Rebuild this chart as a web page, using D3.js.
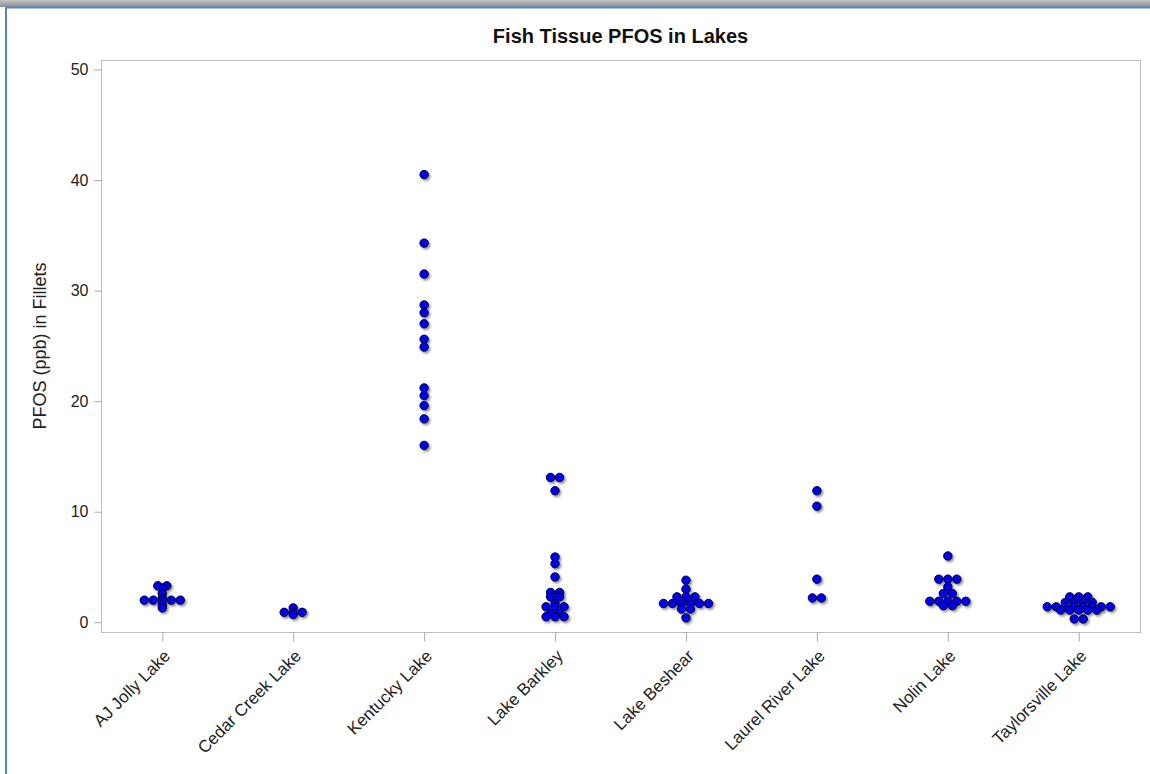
<!DOCTYPE html>
<html>
<head>
<meta charset="utf-8">
<script src="https://cdn.jsdelivr.net/npm/d3@7"></script>
<style>
  html, body { margin: 0; padding: 0; background: #fff; }
  svg { display: block; font-family: "Liberation Sans", Arial, sans-serif; }
  .tick text { fill: #222; }
  .tick line { stroke: #a8a8a8; }
</style>
</head>
<body>
<div id="main"></div>
<script>

var width = 1150,
    height = 774;

var plotLeft = 101, plotRight = 1140,
    plotTop = 60, plotBottom = 632;

var MARKER_R = 4.2,
    MARKER_STEP = 9;

// categories
var lakes = ["AJ Jolly Lake", "Cedar Creek Lake", "Kentucky Lake", "Lake Barkley",
             "Lake Beshear", "Laurel River Lake", "Nolin Lake", "Taylorsville Lake"];

// PFOS (ppb) in fillets, one list per lake
var ajJolly      = [3.3, 3.3, 3.1, 2.6, 2.2, 2.0, 2.0, 2.0, 2.0, 2.0, 1.6, 1.3];
var cedarCreek   = [1.3, 0.9, 0.9, 0.9, 0.7];
var kentucky     = [40.5, 34.3, 31.5, 28.7, 28.0, 27.0, 25.6, 24.9, 21.2, 20.5, 19.6, 18.4, 16.0];
var barkley      = [13.1, 13.1, 11.9, 5.9, 5.3, 4.1, 2.7, 2.7, 2.3, 2.3, 1.7,
                    1.4, 1.4, 1.4, 0.8, 0.8, 0.5, 0.5, 0.5];
var beshear      = [3.8, 3.0, 2.3, 2.3, 2.3, 1.7, 1.7, 1.7, 1.7, 1.7, 1.7, 1.2, 1.2, 0.4];
var laurelRiver  = [11.9, 10.5, 3.9, 2.2, 2.2];
var nolin        = [6.0, 3.9, 3.9, 3.9, 3.2, 2.6, 2.6, 1.9, 1.9, 1.9, 1.9, 1.9, 1.5, 1.5];
var taylorsville = [2.3, 2.3, 2.3, 1.8, 1.8, 1.8, 1.8, 1.4, 1.4, 1.4, 1.4, 1.4, 1.4, 1.4, 1.4,
                    1.1, 1.1, 1.1, 1.1, 1.1, 0.3, 0.3];

var seriesByLake = [ajJolly, cedarCreek, kentucky, barkley, beshear, laurelRiver, nolin, taylorsville];

var yTicks = [0, 10, 20, 30, 40, 50];

var titleText = "Fish Tissue PFOS in Lakes",
    yLabelText = "PFOS (ppb) in Fillets";


// flatten into points, identical values in a lake get spread sideways (jitter)
var points = [];
seriesByLake.forEach(function(vals, i) {
    var groups = d3.group(vals, function(v) { return v; });
    groups.forEach(function(g, v) {
        g.forEach(function(_, k) {
            points.push({ lake: lakes[i], value: v, offset: k - (g.length - 1) / 2 });
        });
    });
});


var svg = d3.select("div#main")
    .append("svg")
    .attr("width", width)
    .attr("height", height);

var defs = svg.append("defs");

var grad = defs.append("linearGradient")
    .attr("id", "chrome")
    .attr("x1", 0).attr("y1", 0).attr("x2", 0).attr("y2", 1);
grad.append("stop").attr("offset", "0%").attr("stop-color", "#c4c4c4");
grad.append("stop").attr("offset", "100%").attr("stop-color", "#8e8e8e");

defs.append("filter")
    .attr("id", "shadow")
    .attr("x", "-50%").attr("y", "-50%").attr("width", "200%").attr("height", "200%")
    .append("feDropShadow")
    .attr("dx", 1.6).attr("dy", 1.8)
    .attr("stdDeviation", 1.2)
    .attr("flood-color", "#000")
    .attr("flood-opacity", 0.45);

// window chrome: grey band on top and a blue edge
svg.append("rect")
    .attr("x", 0).attr("y", 0)
    .attr("width", width).attr("height", 7)
    .attr("fill", "url(#chrome)");

svg.append("line")
    .attr("x1", 6).attr("x2", width)
    .attr("y1", 7.5).attr("y2", 7.5)
    .attr("stroke", "#5585c8")
    .attr("stroke-width", 2);

svg.append("line")
    .attr("x1", 6).attr("x2", 6)
    .attr("y1", 7).attr("y2", height)
    .attr("stroke", "#5585c8")
    .attr("stroke-width", 2);


var x = d3.scalePoint()
    .domain(lakes)
    .range([plotLeft, plotRight])
    .padding(0.468);

var y = d3.scaleLinear()
    .domain([-0.88, 50.86])
    .range([plotBottom, plotTop]);


// plot frame
svg.append("rect")
    .attr("x", plotLeft + 0.5).attr("y", plotTop + 0.5)
    .attr("width", plotRight - plotLeft).attr("height", plotBottom - plotTop)
    .attr("fill", "none")
    .attr("stroke", "#bdbdbd");

var yAxis = svg.append("g")
    .attr("transform", `translate(${plotLeft + 0.5},0)`)
    .call(d3.axisLeft(y).tickValues(yTicks).tickSize(7).tickPadding(6));
yAxis.select(".domain").remove();
yAxis.selectAll("text")
    .attr("font-size", 16)
    .attr("font-family", null);

var xAxis = svg.append("g")
    .attr("transform", `translate(0,${plotBottom + 0.5})`)
    .call(d3.axisBottom(x).tickSize(9).tickFormat(""));
xAxis.select(".domain").remove();

svg.append("g")
    .selectAll("text")
    .data(lakes)
    .enter().append("text")
    .attr("transform", function(d) { return `translate(${x(d) + 9},657) rotate(-45)`; })
    .attr("text-anchor", "end")
    .attr("font-size", 17)
    .attr("fill", "#222")
    .text(function(d) { return d; });

svg.append("text")
    .attr("x", (plotLeft + plotRight) / 2)
    .attr("y", 43)
    .attr("text-anchor", "middle")
    .attr("font-size", 20)
    .attr("font-weight", "bold")
    .attr("fill", "#111")
    .text(titleText);

svg.append("text")
    .attr("transform", `translate(46,${(plotTop + plotBottom) / 2}) rotate(-90)`)
    .attr("text-anchor", "middle")
    .attr("font-size", 18)
    .attr("fill", "#222")
    .text(yLabelText);


svg.append("g")
    .attr("filter", "url(#shadow)")
    .selectAll("circle")
    .data(points)
    .enter().append("circle")
    .attr("cx", function(d) { return x(d.lake) + d.offset * MARKER_STEP; })
    .attr("cy", function(d) { return y(d.value); })
    .attr("r", MARKER_R)
    .attr("fill", "#0000ee")
    .attr("stroke", "#000033")
    .attr("stroke-width", 1);

</script>
</body>
</html>
